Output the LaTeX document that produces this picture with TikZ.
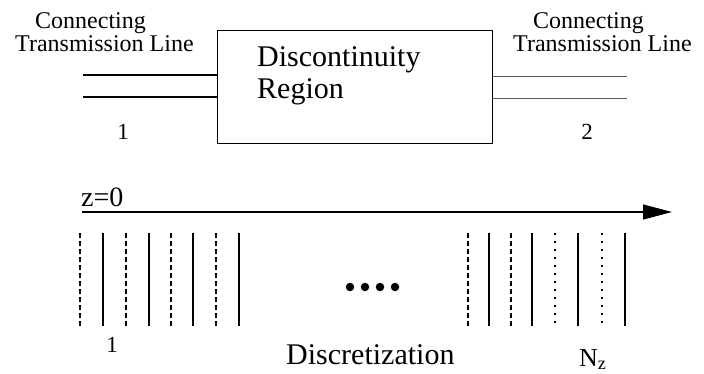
\documentclass[tikz,border=0pt]{standalone}
\usepackage{fontspec}
\setmainfont{Liberation Serif}
\usetikzlibrary{arrows.meta}
\tikzset{
  lbl/.style={inner sep=0pt, font=\fontsize{24}{20}\selectfont},
  num/.style={inner sep=0pt, font=\fontsize{23}{26}\selectfont},
  big/.style={inner sep=0pt, font=\fontsize{30}{32}\selectfont},
  tline/.style={line width=1.1pt},
  solidv/.style={line width=1.3pt},
  dashv/.style={line width=1.3pt, dash pattern=on 5pt off 3pt},
  dotv/.style={line width=1.1pt, dash pattern=on 2pt off 6pt},
  dotball/.style={circle, fill=black, inner sep=0pt, minimum size=8.5pt}
}
\begin{document}
\begin{tikzpicture}[x=1pt,y=-1pt]
\useasboundingbox (0,0) rectangle (704,373);
% region box
\node[draw, line width=1.1pt, minimum width=275pt, minimum height=113pt, inner sep=0pt, anchor=north west] (region) at (217,30) {};
\node[big, anchor=base west, align=left] (disc) at (257,98) {Discontinuity\\Region};
% labels
\node[lbl, anchor=base west, align=left] (lt) at (15,51) {\hspace*{20pt}Connecting\\Transmission Line};
\node[lbl, anchor=base west, align=left] (rt) at (513,51) {\hspace*{20pt}Connecting\\Transmission Line};
\node[num] (n1) at (123,132) {1};
\node[num] (n2) at (587,132) {2};
% transmission lines
\coordinate (la) at (83,75);
\coordinate (lb) at (83,97);
\coordinate (ra) at (627,76);
\coordinate (rb) at (627,98);
\draw[tline] (la) -- (la -| region.west);
\draw[tline] (lb) -- (lb -| region.west);
\draw[tline, gray!70!black, line width=0.9pt] (ra -| region.east) -- (ra);
\draw[tline, gray!70!black, line width=0.9pt] (rb -| region.east) -- (rb);
% z axis
\node[inner sep=0pt, font=\fontsize{28}{30}\selectfont, anchor=base west] (z0) at (81,206) {z=0};
\coordinate (zs) at (82,212);
\coordinate (ze) at (672,212);
\draw[line width=1.2pt, -{Triangle[length=29pt, width=15pt]}] (zs) -- (ze);
% discretization lines
\foreach \x in {80,126,171,216,468,511} \draw[dashv] (\x,233) -- (\x,326);
\foreach \x in {103,149,193,239,489,532,578,625} \draw[solidv] (\x,233) -- (\x,326);
\foreach \x in {555,602} \draw[dotv] (\x,233) -- (\x,326);
% dots
\foreach \x [count=\i] in {350,365,380,395} \node[dotball] (d\i) at (\x,287) {};
% bottom labels
\node[num] (b1) at (112,345) {1};
\node[big, anchor=base west] (discr) at (286,364) {Discretization};
\node[inner sep=0pt, font=\fontsize{26}{28}\selectfont, anchor=base west] (nz) at (579,366) {N\textsubscript{z}};
\end{tikzpicture}
\end{document}
